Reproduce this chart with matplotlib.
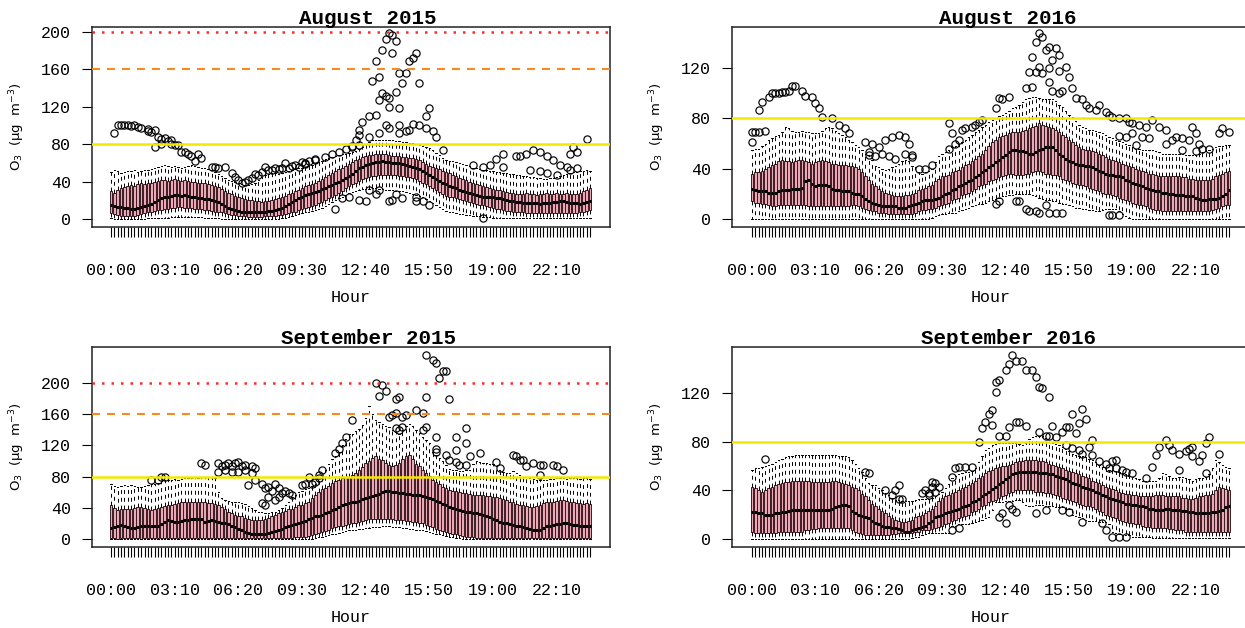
import matplotlib
matplotlib.use("Agg")
import matplotlib.pyplot as plt
from collections import defaultdict

# --- slots: 144 ten-minute intervals, labelled every 19 slots ---
N_SLOTS = 144
TICK_STEP = 19
TICK_LABELS = ["00:00", "03:10", "06:20", "09:30", "12:40", "15:50", "19:00", "22:10"]

# ---------------- August 2015 ----------------
AUG15_MED = [15,14,13,13,12,12, 11,11,12,13,14,15, 16,18,20,22,24,24, 25,26,26,25,26,25,
             24,23,22,22,21,21, 20,19,18,16,14,12, 11,10,9,8,8,7, 7,7,8,8,8,9,
             9,10,11,12,14,16, 18,20,22,24,26,27, 28,29,30,32,33,35, 36,38,40,42,44,46,
             48,51,54,56,58,59, 60,61,61,62,61,61, 60,60,60,59,58,57, 56,55,53,51,49,47,
             45,43,41,39,37,35, 34,33,31,30,29,28, 27,26,25,24,24,23, 23,22,22,21,20,19,
             19,18,18,17,17,17, 17,17,16,17,17,17, 18,18,19,19,18,17, 17,17,16,17,18,19]
AUG15_Q1 = [6,5,4,3,3,3, 3,3,4,5,6,7, 8,9,10,10,11,11, 12,12,13,13,12,12,
            12,11,11,11,10,10, 9,8,8,7,6,5, 4,4,3,3,3,2, 2,2,2,2,3,3,
            3,3,4,4,5,6, 7,8,10,11,12,13, 14,15,17,18,20,22, 24,26,28,30,33,35,
            37,39,41,43,44,45, 46,46,47,47,47,47, 47,47,46,46,45,45, 44,43,41,39,37,35,
            33,31,29,27,25,24, 23,22,21,20,19,18, 17,16,15,15,14,13, 12,11,11,10,9,9,
            8,8,7,7,6,6, 6,6,6,6,6,6, 6,6,6,6,6,6, 6,6,7,8,9,10]
AUG15_Q3 = [30,28,31,33,34,35, 36,35,37,38,37,38, 39,40,41,42,42,41, 42,43,42,41,42,41,
            40,40,39,39,38,37, 36,35,34,32,30,28, 27,25,23,22,21,20, 20,19,19,18,19,19,
            20,21,22,23,25,27, 28,30,31,33,35,36, 37,39,41,43,45,47, 49,51,53,55,57,59,
            61,63,64,66,67,68, 68,69,70,69,69,68, 67,67,67,66,66,65, 65,64,63,61,59,57,
            56,54,53,51,50,49, 47,46,44,43,42,40, 39,37,36,35,34,33, 32,31,31,30,29,28,
            28,27,27,27,28,27, 27,26,27,27,28,27, 27,28,27,27,28,27, 27,27,28,30,31,33]
AUG15_WLO = [1,0,0,0,0,0, 0,0,0,0,0,1, 1,1,1,1,1,1, 2,2,2,2,2,2,
             2,2,2,2,1,1, 1,1,1,0,0,0, 0,0,0,0,0,0, 0,0,0,0,0,0,
             0,0,0,1,1,2, 3,4,5,6,7,8, 9,10,11,12,14,16, 18,20,22,24,26,28,
             29,30,31,32,32,32, 33,33,32,32,31,31, 31,30,30,30,29,28, 27,26,25,23,21,19,
             17,15,13,11,9,8, 7,6,5,5,4,4, 3,3,3,2,2,2, 1,1,1,1,1,1,
             1,1,1,1,1,1, 1,1,1,1,1,1, 1,1,1,1,1,1, 1,1,1,1,1,1]
AUG15_WHI = [50,52,51,49,50,51, 51,52,50,51,52,52, 53,54,56,57,58,57, 56,57,56,55,56,57,
             58,57,56,55,54,53, 52,50,48,46,44,42, 41,40,38,37,36,36, 37,39,42,45,47,48,
             49,49,48,49,50,51, 52,53,54,55,56,57, 58,60,61,62,64,65, 66,67,68,69,70,71,
             72,73,75,77,80,82, 84,85,85,85,84,84, 84,83,83,82,82,81, 81,80,79,78,77,76,
             74,71,68,65,63,62, 62,61,60,59,58,57, 55,54,53,52,52,51, 51,50,50,49,49,48,
             48,47,47,46,46,45, 45,44,44,43,43,44, 44,45,46,47,48,49, 50,50,51,51,52,51]
AUG15_OUT = [(1,92),(2,100),(3,101),(4,100),(5,100),(6,99),(7,100),(8,98),(9,97),(11,94),
             (11,96),(12,93),(13,95),(13,77),(14,88),(15,86),(15,80),(16,87),(17,83),(18,80),
             (18,84),(19,79),(20,79),(21,72),(22,72),(23,70),(24,67),(25,62),(26,69),(27,65),
             (30,56),(31,56),(32,55),(34,56),(36,49),(37,45),(38,42),(39,38),(40,40),(41,42),
             (42,44),(43,48),(44,47),(45,50),(46,56),(47,52),(48,52),(49,54),(50,53),(51,55),
             (52,60),(53,55),(54,57),(55,58),(56,56),(57,61),(58,59),(59,62),(61,64),(58,60),
             (61,63),(64,66),(66,70),(68,72),(70,75),(72,78),
             (83,199),(84,197),(82,192),(85,190),(81,181),(84,177),(91,177),(90,172),(89,169),
             (79,169),(86,156),(88,156),(80,152),(78,148),(87,145),(92,145),(85,136),(81,135),
             (82,131),(80,127),(83,129),(83,120),(86,119),(95,119),(79,111),(77,110),(94,110),
             (75,104),(82,101),(86,101),(90,102),(92,101),(74,95),(83,97),(89,95),(94,97),
             (96,94),(74,90),(77,88),(80,92),(86,92),(88,94),(97,88),(72,77),(73,85),(99,74),
             (74,79),
             (67,11),(69,22),(71,24),(74,20),(76,19),(77,31),(80,31),(79,27),(83,19),(84,20),
             (85,27),(87,22),(91,24),(91,19),(93,19),(95,15),
             (108,58),(111,56),(113,58),(115,64),(117,69),(117,56),(121,67),(122,67),(124,69),
             (126,74),(128,72),(130,67),(132,63),(134,58),(136,56),(128,51),(130,49),(133,47),
             (137,69),(138,77),(139,72),(142,86),(125,52),(137,52),(139,55),(111,1)]

# ---------------- August 2016 ----------------
AUG16_MED = [24,23,22,22,22,21, 21,21,22,23,23,23, 24,24,24,25,30,31, 28,26,27,27,27,26,
             24,23,23,22,22,22, 21,20,20,18,16,14, 13,12,11,10,10,10, 10,10,9,9,9,10,
             11,12,13,14,15,15, 15,16,17,18,20,21, 23,24,26,27,29,30, 31,33,35,37,39,41,
             43,45,47,49,51,53, 55,55,54,54,53,52, 52,53,55,56,57,57, 57,55,52,50,48,46,
             45,44,43,43,42,42, 41,40,38,37,36,35, 35,34,34,33,31,30, 29,28,27,26,25,24,
             23,22,22,21,21,20, 20,19,19,19,18,18, 18,17,16,15,15,16, 16,16,17,18,20,23]
AUG16_Q1 = [14,13,13,12,12,11, 10,10,11,11,11,11, 11,11,11,11,11,10, 10,10,10,10,10,10,
            10,10,10,10,10,10, 11,11,10,9,8,7, 6,6,5,5,5,4, 4,4,4,4,4,4,
            4,5,6,7,7,8, 8,9,10,11,12,13, 15,16,17,19,20,21, 22,24,26,27,28,30,
            31,32,33,34,35,36, 36,35,35,35,36,36, 37,38,38,37,36,36, 35,35,34,32,31,30,
            29,28,27,27,26,25, 24,23,22,21,20,20, 19,18,17,16,15,14, 13,12,11,11,10,9,
            8,7,7,6,6,6, 6,6,6,6,6,6, 6,6,6,6,6,6, 7,8,9,10,11,11]
AUG16_Q3 = [36,37,37,38,40,41, 43,44,46,47,46,46, 45,46,47,47,46,45, 44,45,46,47,46,45,
            44,44,43,43,43,42, 42,41,40,37,34,31, 28,26,24,22,21,20, 19,18,18,18,19,19,
            20,21,23,24,25,26, 27,30,32,34,34,35, 37,38,39,41,43,44, 46,48,50,52,55,58,
            61,63,65,66,67,68, 69,69,69,70,71,72, 73,74,76,75,74,73, 72,71,69,67,65,63,
            61,59,57,56,55,55, 54,53,52,51,49,48, 47,46,45,44,43,42, 41,40,39,38,37,36,
            36,35,34,34,34,34, 34,34,34,33,33,32, 32,31,31,31,31,31, 32,34,35,36,37,38]
AUG16_WLO = [0]*54 + [1,2,3,4,4,5, 5,5,6,7,8,9, 10,11,12,12,13,14,
             15,16,17,18,18,19, 19,20,20,20,20,20, 19,18,17,16,15,15, 14,14,13,12,12,11,
             10,9,9,8,8,7, 7,6,6,7,8,8, 8,8,6,4,2,1] + [0]*30
AUG16_WHI = [55,56,56,58,60,63, 64,66,67,69,73,72, 70,69,69,70,69,69, 68,68,68,70,72,73,
             72,70,68,67,65,63, 61,59,57,55,52,51, 47,42,41,40,39,40, 41,42,44,46,47,46,
             42,41,37,36,37,38, 40,45,50,52,53,55, 57,58,60,61,63,65, 67,69,71,73,75,77,
             79,80,82,83,84,86, 88,89,91,93,95,96, 97,97,96,95,95,95, 95,94,91,89,86,83,
             81,78,75,73,72,71, 71,70,69,68,67,65, 64,63,62,61,60,59, 57,56,56,55,55,55,
             55,54,53,52,52,52, 52,52,52,52,51,51, 51,51,52,53,54,55, 56,57,58,58,59,59]
AUG16_OUT = [(0,69),(1,69),(2,69),(4,70),(0,61),(2,87),(3,93),(5,97),(6,100),(7,100),
             (8,100),(9,101),(10,101),(11,102),(12,106),(13,106),(15,102),(16,98),(18,97),(19,92),
             (20,88),(21,81),(24,80),(26,75),(28,72),(29,68),(34,61),(35,53),(36,60),(38,57),
             (40,63),(42,65),(44,67),(46,65),(47,60),(48,51),(46,52),(48,49),(50,40),(52,40),
             (54,43),(39,52),(41,50),(43,48),(37,50),(35,51),
             (86,148),(87,145),(85,141),(88,134),(89,137),(91,136),(84,129),(90,126),(92,130),
             (83,117),(85,117),(86,121),(87,116),(89,120),(92,118),(94,121),(95,113),(82,104),
             (84,105),(89,109),(90,102),(92,100),(93,102),(96,104),(74,96),(75,95),(73,88),
             (77,97),(97,96),(99,95),(100,91),(101,88),(104,91),(103,87),(106,85),(107,83),
             (108,81),(110,80),(112,80),(113,77),(114,76),(116,75),(118,73),(120,79),(122,73),
             (124,71),(127,65),(129,64),(132,73),(133,68),(131,63),(134,60),(135,56),(137,56),
             (140,68),(141,72),(143,69),(112,65),(114,68),(117,65),(119,64),(110,66),(115,59),
             (124,60),(126,63),(129,55),(133,54),
             (59,76),(60,68),(61,60),(62,63),(59,56),(63,71),(64,72),(66,73),(67,75),(68,77),
             (69,79),
             (73,12),(74,14),(79,14),(80,14),(82,8),(83,6),(85,6),(86,4.5),(88,11),(89,4.5),
             (91,4.5),(93,4.5),(107,3),(108,3),(110,3)]

# ---------------- September 2015 ----------------
SEP15_MED = [14,15,16,18,17,15, 14,14,15,16,16,16, 16,16,17,19,22,24, 23,22,22,23,24,24,
             25,26,26,25,22,23, 24,23,22,21,20,19, 17,15,13,11,9,8, 7,7,7,7,7,8,
             9,10,12,13,15,16, 18,19,20,22,23,25, 27,29,30,31,33,35, 37,39,41,43,45,46,
             47,48,49,51,52,54, 55,57,58,60,61,61, 60,60,59,59,58,58, 57,57,56,55,54,53,
             51,49,47,45,43,41, 40,39,37,36,35,34, 33,33,32,31,30,28, 26,24,22,21,20,19,
             18,17,16,15,14,13, 12,11,12,14,16,17, 18,19,19,20,20,19, 18,18,17,17,16,16]
SEP15_Q1 = [1,1,0,1,1,1, 1,1,1,0,1,1, 1,1,1,1,1,1, 1,1,1,1,1,1,
            1,1,1,1,1,1, 1,1,1,1,1,1, 1,1,1,1,1,1, 1,1,1,1,1,1,
            1,1,1,1,1,1, 1,2,2,3,3,4, 5,6,8,9,10,12, 14,15,16,17,18,19,
            20,21,22,23,24,25, 25,26,26,26,25,25, 25,24,24,24,23,23, 22,22,21,20,18,16,
            15,13,11,10,9,8, 7,6,5,4,3,2, 2,1,1,1,1,1, 1,1,1,1,1,1,
            1,1,1,1,1,1, 1,1,1,1,1,1, 1,1,1,1,1,1, 1,1,1,1,1,1]
SEP15_Q3 = [44,40,37,38,39,39, 39,40,41,41,40,38, 37,38,40,41,42,43, 44,45,46,47,48,48,
            48,48,48,48,47,46, 46,45,43,41,38,35, 33,31,30,29,27,25, 24,24,24,24,25,27,
            29,31,33,35,36,38, 39,41,43,44,46,48, 53,56,60,64,66,68, 72,74,76,78,79,80,
            82,85,88,92,97,100, 104,106,103,101,98,95, 93,95,97,102,106,108, 103,96,93,89,85,81,
            76,73,70,67,65,63, 62,61,60,59,59,58, 57,57,56,56,55,55, 54,54,53,51,50,48,
            47,45,44,43,42,41, 41,42,44,46,47,48, 48,49,50,50,49,48, 47,46,46,45,46,45]
SEP15_WLO = [0]*60 + [0,1,2,3,4,5, 6,7,8,9,10,11, 12,12,13,13,14,14, 15,15,15,16,16,16,
             15,15,15,14,14,13, 13,12,12,11,10,9, 8,7,6,5,4,3, 2,1,1,0,0,0] + [0]*36
SEP15_WHI = [71,68,67,68,69,68, 69,68,67,67,68,69, 70,71,72,74,76,76, 76,77,76,77,78,78,
             78,79,78,79,80,80, 79,78,60,52,50,49, 48,47,47,46,45,42, 40,37,35,34,33,33,
             34,35,37,40,44,47, 54,57,60,62,64,66, 68,70,74,80,88,96, 102,107,112,120,128,134,
             135,138,141,146,155,170, 160,153,150,147,145,144, 140,137,135,140,145,148,
             145,140,136,131,127,123,
             112,108,104,100,95,90, 88,88,87,87,88,89, 96,100,99,98,97,96, 96,94,88,86,85,84,
             87,84,82,80,79,78, 77,76,76,76,76,77, 77,78,78,78,77,78, 78,78,77,78,78,77]
SEP15_OUT = [(27,97),(28,95),(32,97),(33,93),(34,95),(35,97),(36,93),(37,97),(38,99),(39,93),
             (40,95),(42,93),(43,91),(32,86),(34,88),(36,86),(38,86),(40,88),(42,84),(41,69),
             (43,76),(45,71),(46,65),(47,67),(48,61),(49,71),(50,65),(51,59),(52,61),(53,59),
             (54,56),(45,46),(46,44),(47,54),(49,50),(50,54),(57,69),(58,71),(59,80),(61,73),
             (62,82),(60,71),(62,78),(63,88),(12,76),(14,76),(15,79),(16,80),
             (94,236),(96,230),(97,226),(99,215),(100,215),(98,206),(79,200),(81,198),(80,183),
             (82,190),(85,180),(86,182),(94,182),(101,179),(91,166),(93,162),(83,157),(84,159),
             (85,161),(87,157),(88,159),(72,153),(85,142),(86,140),(87,144),(94,144),(93,140),
             (106,142),(97,131),(103,131),(70,131),(69,123),(68,116),(67,110),(106,123),(97,116),
             (97,112),(103,114),(100,108),(101,101),(103,99),(104,95),(106,95),(107,106),
             (115,99),(116,91),(120,108),(121,106),(122,101),(124,93),(126,97),(128,95),(129,95),
             (132,95),(133,93),(135,88),(128,82),(123,101),(110,110)]

# ---------------- September 2016 ----------------
SEP16_MED = [22,22,21,21,20,20, 20,21,21,22,22,23, 24,24,24,24,24,24, 24,24,24,24,24,24,
             25,26,27,28,28,27, 23,21,20,19,18,17, 15,13,12,11,10,10, 9,9,8,7,6,6,
             7,8,9,10,11,13, 15,18,19,20,21,22, 23,24,25,26,27,28, 30,31,33,35,37,39,
             41,43,45,47,49,51, 53,54,55,55,55,55, 55,55,54,54,54,53, 53,52,51,50,49,48,
             46,45,44,43,42,41, 40,39,38,36,35,34, 33,32,31,30,29,29, 28,28,27,27,26,25,
             25,24,24,24,25,25, 24,24,24,23,23,22, 22,21,21,21,21,21, 22,22,23,24,26,27]
SEP16_Q1 = [6,5,5,5,5,5, 5,5,6,6,6,6, 6,6,6,6,7,7, 8,8,9,9,9,9,
            9,9,9,9,9,9, 7,6,5,4,3,3, 3,3,3,3,3,3, 4,4,5,5,5,5,
            5,6,6,7,7,7, 8,9,10,11,12,13, 15,16,17,18,19,20, 22,23,25,27,28,30,
            31,32,34,35,36,38, 39,40,40,40,40,40, 40,39,39,39,38,38, 37,36,35,34,33,32,
            31,30,29,28,27,27, 26,25,23,22,20,19, 18,17,16,15,14,13, 13,12,12,11,10,10,
            9,9,9,9,9,8, 8,7,7,7,6,6, 6,6,6,6,6,6, 6,6,6,6,6,6]
SEP16_Q3 = [43,42,40,39,40,42, 43,44,45,46,47,47, 48,48,48,48,48,48, 47,47,47,47,47,47,
            48,48,47,46,45,44, 43,42,40,37,35,32, 29,27,25,23,21,19, 17,16,15,14,14,15,
            16,18,19,20,21,23, 25,27,31,34,35,36, 38,39,40,42,43,44, 46,48,50,52,54,56,
            57,58,59,60,60,61, 62,63,64,64,65,65, 65,65,64,64,63,62, 61,60,59,58,57,56,
            55,54,53,52,51,50, 48,47,46,44,43,42, 41,40,39,38,37,37, 36,36,35,35,35,35,
            35,36,36,36,35,35, 35,35,35,34,34,33, 33,34,35,35,36,36, 37,40,43,42,41,40]
SEP16_WLO = [0]*48 + [1,2,2,3,4,5, 5,5,5,5,5,5, 11,11,12,12,12,12, 13,14,15,16,17,18,
             24,30,30,30,31,31, 31,32,32,30,28,27, 27,28,28,28,27,27, 27,26,26,26,25,25,
             20,19,18,17,16,15, 15,15,14,14,14,12, 6,5,4,3,3,3, 2,2,2,2,2,2] + [1]*24
SEP16_WHI = [57,58,58,59,60,61, 62,63,65,66,67,68, 68,69,69,69,69,69, 69,69,69,69,69,69,
             69,69,68,68,68,67, 65,62,58,55,50,46, 44,44,42,40,38,36, 34,32,32,31,31,31,
             31,32,33,33,33,33, 34,35,37,39,42,45, 50,52,53,54,55,55, 56,58,63,68,73,75,
             77,78,79,79,79,79, 79,79,78,77,79,82, 84,85,85,85,83,80, 79,78,77,76,74,72,
             70,69,68,68,67,66, 65,63,61,59,58,57, 57,56,55,54,53,52, 51,50,49,48,48,48,
             48,48,50,54,53,52, 50,50,51,51,50,49, 48,49,50,50,51,53, 58,65,63,61,59,58]
SEP16_OUT = [(4,66),(34,55),(35,54),(40,40),(42,36),(43,40),(44,44),(44,33),(45,33),(51,38),
             (52,40),(53,36),(53,38),(54,43),(54,47),(55,39),(55,46),(56,43),
             (78,151),(77,144),(79,146),(81,146),(76,139),(74,131),(73,129),(82,139),(84,139),
             (85,133),(86,125),(87,124),(89,117),(73,121),(71,103),(72,106),(70,96),(69,91),
             (72,94),(96,103),(99,107),(100,99),(98,95),(79,96),(80,96),(82,93),(77,92),(90,93),
             (94,92),(95,92),(74,85),(76,85),(86,88),(88,85),(89,85),(91,84),(93,88),(97,87),
             (68,80),(102,81),(94,77),(96,75),(98,73),(101,76),(99,70),(102,69),(104,64),
             (106,62),(108,64),(109,65),(107,58),(109,58),(111,57),(112,55),(114,54),(118,50),
             (120,59),(121,69),(122,76),(124,81),(125,77),(126,73),(128,70),(130,72),(131,74),
             (132,76),(132,68),(134,64),(135,69),(128,57),(136,54),(136,79),(137,84),(140,70),
             (61,58),(60,51),(62,59),(64,59),(66,59),
             (75,21),(76,13),(77,28),(78,25),(79,22),(74,18),(85,21),(88,24),(93,24),(95,22),
             (99,14),(105,13),(106,7),(108,2),(110,2),(112,2),(60,7),(62,9)]

# limit values drawn as reference lines
LIMIT_200 = 200
LIMIT_160 = 160
LIMIT_80 = 80

BOX_FACE = "#eaa9b4"
BOX_EDGE = "#3b1c22"
MONO = "Liberation Mono"


def make_stats(med, q1, q3, wlo, whi, out):
    fl = defaultdict(list)
    for i, v in out:
        fl[i].append(v)
    return [dict(med=med[i], q1=q1[i], q3=q3[i], whislo=wlo[i], whishi=whi[i],
                 fliers=fl[i]) for i in range(N_SLOTS)]


panels = [
    ("August 2015", make_stats(AUG15_MED, AUG15_Q1, AUG15_Q3, AUG15_WLO, AUG15_WHI, AUG15_OUT),
     [92, 401, 518, 200], (-4.67, 149.93), (-8.56, 205.3), [0, 40, 80, 120, 160, 200], True),
    ("August 2016", make_stats(AUG16_MED, AUG16_Q1, AUG16_Q3, AUG16_WLO, AUG16_WHI, AUG16_OUT),
     [732, 401, 518, 200], (-5.0, 150.3), (-6.36, 152.6), [0, 40, 80, 120], False),
    ("September 2015", make_stats(SEP15_MED, SEP15_Q1, SEP15_Q3, SEP15_WLO, SEP15_WHI, SEP15_OUT),
     [92, 81, 518, 200], (-4.67, 149.93), (-10.3, 246.2), [0, 40, 80, 120, 160, 200], True),
    ("September 2016", make_stats(SEP16_MED, SEP16_Q1, SEP16_Q3, SEP16_WLO, SEP16_WHI, SEP16_OUT),
     [732, 81, 518, 200], (-5.0, 150.3), (-6.6, 157.8), [0, 40, 80, 120], False),
]

W, H = 1245, 628
fig = plt.figure(figsize=(W / 100, H / 100), dpi=100)

positions = list(range(1, N_SLOTS + 1))
xlabels = [""] * N_SLOTS
for k, lab in enumerate(TICK_LABELS):
    xlabels[k * TICK_STEP] = lab

for title, stats, (px, py, pw, ph), xlim, ylim, yticks, eu_lines in panels:
    ax = fig.add_axes([px / W, py / H, pw / W, ph / H])
    ax.bxp(stats, positions=positions, widths=0.8, patch_artist=True,
           showfliers=True, capwidths=0.4, manage_ticks=False,
           boxprops=dict(facecolor=BOX_FACE, edgecolor=BOX_EDGE, linewidth=0.7),
           whiskerprops=dict(color="black", linestyle=(0, (4, 4)), linewidth=0.7),
           capprops=dict(color="black", linewidth=0.7),
           medianprops=dict(color="black", linewidth=2.2, solid_capstyle="butt"),
           flierprops=dict(marker="o", markerfacecolor="none", markeredgecolor="black",
                           markersize=5.2, markeredgewidth=0.85))

    if eu_lines:
        ax.axhline(LIMIT_200, color="#ff2a2a", lw=1.8, linestyle=(0, (1, 2.8)), zorder=4)
        ax.axhline(LIMIT_160, color="#f98a1c", lw=1.5, linestyle=(0, (3.8, 3.4)), zorder=4)
    ax.axhline(LIMIT_80, color="#f5e800", lw=1.8, zorder=4)

    ax.set_xlim(*xlim)
    ax.set_ylim(*ylim)
    ax.set_yticks(yticks)
    ax.set_yticklabels([str(t) for t in yticks], family=MONO, fontsize=12)
    ax.set_xticks(positions)
    ax.set_xticklabels(xlabels, family=MONO, fontsize=12)
    ax.tick_params(axis="x", length=7, width=0.8, pad=19)
    ax.tick_params(axis="y", length=7, width=0.8, pad=8)
    for s in ax.spines.values():
        s.set_linewidth(1.1)
        s.set_color("#222222")

    ax.text(0.533, 1.045, title, transform=ax.transAxes, ha="center", va="center",
            fontsize=15, fontweight="bold", family=MONO)
    ax.text(0.5, -0.355, "Hour", transform=ax.transAxes, ha="center", va="center",
            fontsize=12, family=MONO)
    ax.text(-0.145, 0.5, "O$_3$  (\u00b5g  m$^{-3}$)", transform=ax.transAxes,
            rotation=90, ha="center", va="center", fontsize=9.5, family="DejaVu Sans")

fig.savefig("out.png", dpi=100)
